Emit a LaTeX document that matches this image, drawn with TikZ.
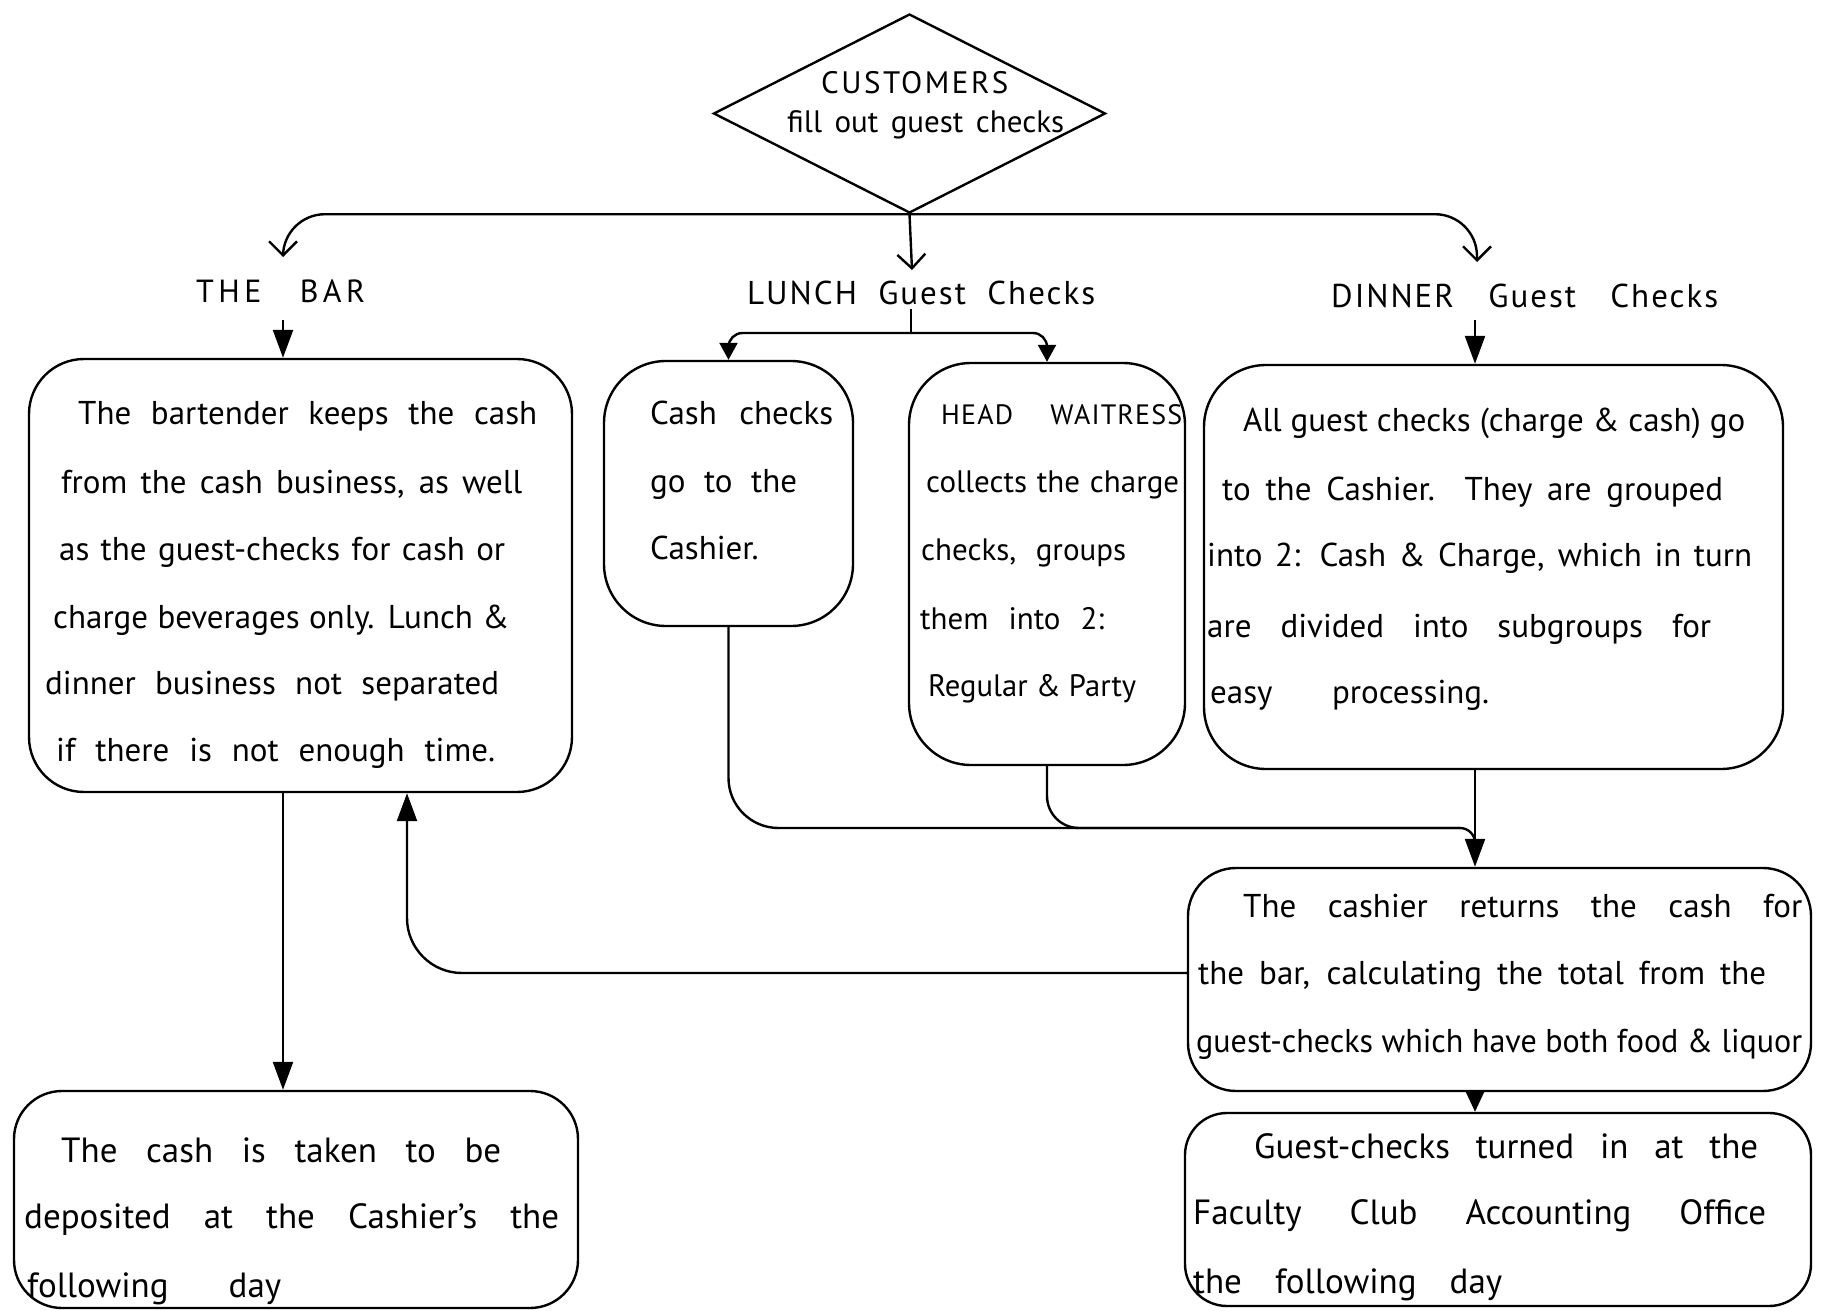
\documentclass[tikz,border=0pt]{standalone}
\usepackage{fontspec}
\setmainfont{PT Sans}
\usepackage{graphicx}
\usetikzlibrary{shapes.geometric,arrows.meta,calc}
\newcommand\fitline[2]{\setbox0=\hbox{#2}\ifdim\wd0>#1\relax\resizebox{#1}{\height}{#2}\else\makebox[#1][s]{#2}\fi}
\newcommand\tline[5]{\node[txt] (#1) at (#2,#3) {\fitline{#4pt}{#5}};}
\begin{document}
\begin{tikzpicture}[x=1pt,y=-1pt, line width=2.4pt,
  font=\fontsize{33}{38}\selectfont,
  box/.style={draw, rectangle, rounded corners=#1, inner sep=0pt},
  box/.default=50pt,
  txt/.style={anchor=mid west, inner sep=0pt, yshift=-8pt},
  tri/.style={-{Triangle[length=28pt,width=20pt]}},
  smalltri/.style={-{Triangle[length=17pt,width=18pt]}},
  barb/.style={-{Straight Barb[length=14pt,width=28pt]}}]
\useasboundingbox (0,0) rectangle (1824,1311);

% ---------- shapes ----------
\node[draw, diamond, minimum width=392pt, minimum height=199pt, inner sep=0pt] (dia) at (909.5,113.5) {};
\node[box=55pt, minimum width=543pt, minimum height=433pt] (bar) at (300.5,575.5) {};
\node[box=62pt, minimum width=249pt, minimum height=265pt] (cash) at (728.5,493.5) {};
\node[box=62pt, minimum width=276pt, minimum height=402pt] (head) at (1047,564) {};
\node[box=62pt, minimum width=579pt, minimum height=404pt] (dinner) at (1493.5,567) {};
\node[box=48pt, minimum width=623pt, minimum height=223pt] (cashier) at (1499.5,979.5) {};
\node[box=42pt, minimum width=626pt, minimum height=193pt] (office) at (1498,1209.5) {};
\node[box=48pt, minimum width=564pt, minimum height=217pt] (deposit) at (296,1199.5) {};

% ---------- labels ----------
\begin{scope}[font=\fontsize{31}{36}\selectfont\addfontfeatures{LetterSpace=8}]
\tline{cust}{820}{83}{192}{CUSTOMERS}
\end{scope}
\begin{scope}[font=\fontsize{31}{36}\selectfont]
\tline{fill}{786}{122}{277}{fill out guest checks}
\end{scope}
\begin{scope}[font=\fontsize{32}{36}\selectfont\addfontfeatures{LetterSpace=14}]
\tline{barlbl}{195}{292}{169}{THE BAR}
\end{scope}
\begin{scope}[font=\fontsize{33}{36}\selectfont\addfontfeatures{LetterSpace=6}]
\tline{lunchlbl}{746}{294}{348}{LUNCH Guest Checks}
\tline{dinlbl}{1330}{297}{387}{DINNER Guest Checks}
\end{scope}

% ---------- box texts ----------
\tline{b1}{77}{414}{459}{The bartender keeps the cash}
\tline{b2}{60}{483}{461}{from the cash business, as well}
\tline{b3}{58}{550}{446}{as the guest-checks for cash or}
\tline{b4}{52}{618}{456}{charge beverages only. Lunch \&}
\tline{b5}{44}{684}{454}{dinner business not separated}
\tline{b6}{55}{751}{439}{if there is not enough time.}

\tline{c1}{649}{414}{183}{Cash checks}
\tline{c2}{649}{482}{147}{go to the}
\tline{c3}{649}{549}{114}{Cashier.}

\begin{scope}[font=\fontsize{28}{32}\selectfont\addfontfeatures{LetterSpace=4}]
\tline{h1}{940}{414}{241}{HEAD WAITRESS}
\end{scope}
\begin{scope}[font=\fontsize{31}{36}\selectfont]
\tline{h2}{925}{482}{253}{collects the charge}
\tline{h3}{920}{550}{205}{checks, groups}
\tline{h4}{919}{619}{184}{them into 2:}
\tline{h5}{927}{686}{208}{Regular \& Party}
\end{scope}

\tline{d1}{1242}{421}{502}{All guest checks (charge \& cash) go}
\tline{d2}{1221}{490}{501}{to the Cashier. They are grouped}
\tline{d3}{1206}{556}{545}{into 2: Cash \& Charge, which in turn}
\tline{d4}{1206}{627}{504}{are divided into subgroups for}
\tline{d5}{1209}{693}{279}{easy processing.}

\tline{k1}{1242}{907}{559}{The cashier returns the cash for}
\tline{k2}{1197}{974}{568}{the bar, calculating the total from the}
\tline{k3}{1195}{1042}{606}{guest-checks which have both food \& liquor}

\begin{scope}[font=\fontsize{35}{40}\selectfont]
\tline{o1}{1253}{1148}{504}{Guest-checks turned in at the}
\tline{o2}{1192}{1214}{573}{Faculty Club Accounting Office}
\tline{o3}{1192}{1283}{309}{the following day}

\tline{p1}{60}{1152}{440}{The cash is taken to be}
\tline{p2}{23}{1218}{535}{deposited at the Cashier's the}
\tline{p3}{26}{1287}{254}{following day}
\end{scope}

% ---------- helper coordinates ----------
\coordinate (colx) at (1475,0);
\coordinate (barx) at (283,0);
\coordinate (retx) at (407,0);
\coordinate (rety) at (0,973);
\coordinate (barIn) at (283,257);
\coordinate (lunchIn) at (912,270);
\coordinate (dinIn) at (1477,262);
\coordinate (lunchOut) at (911,309);
\coordinate (lsplit) at (911,333);
\coordinate (dinOut) at (1475,320);
\coordinate (barOut) at (283,320);
\coordinate (mergeEnd) at (1460,828);
\coordinate (mergeDrop) at (1475,843);

% ---------- connectors ----------
\draw[barb, rounded corners=42pt] (dia.south) -| (barIn);
\draw[barb] (dia.south) -- (lunchIn);
\draw[barb, rounded corners=42pt] (dia.south) -| (dinIn);

\draw (lunchOut) -- (lsplit);
\draw[smalltri, rounded corners=14pt] (lsplit) -| (cash.north);
\draw[smalltri, rounded corners=14pt] (lsplit) -| (head.north);

\draw[tri] (barOut) -- (barx |- bar.north);
\draw[tri] (dinOut) -- (colx |- dinner.north);

\draw[rounded corners=50pt] (cash.south) |- (mergeEnd);
\draw (mergeEnd) to[out=0,in=90] (mergeDrop);
\draw[rounded corners=32pt] (head.south) |- (mergeEnd);
\draw[tri] (colx |- dinner.south) -- (colx |- cashier.north);

\draw[tri, rounded corners=55pt] (cashier.west |- rety) -| (retx |- bar.south);
\draw[tri] (barx |- bar.south) -- (barx |- deposit.north);
\draw[-{Triangle[length=20pt,width=18pt]}] (colx |- cashier.south) -- (colx |- office.north);
\end{tikzpicture}
\end{document}
